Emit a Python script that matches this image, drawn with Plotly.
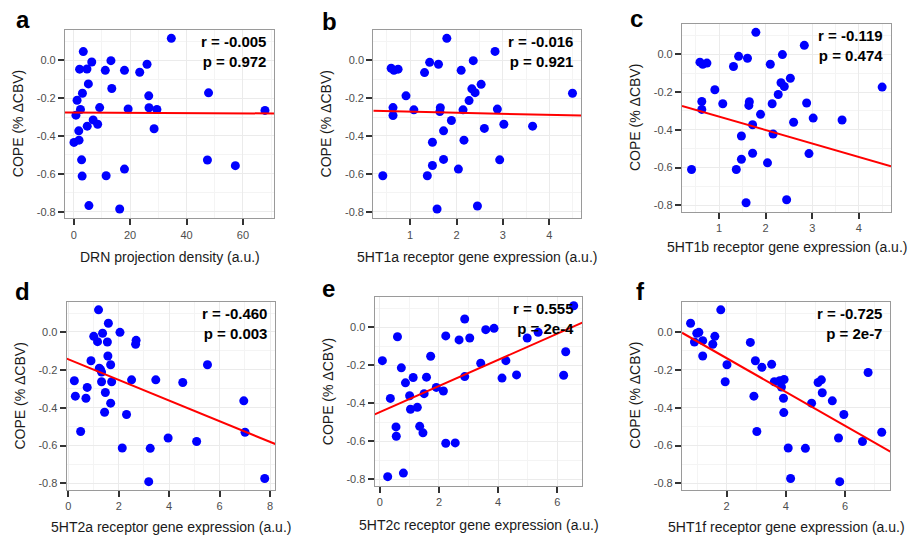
import plotly.graph_objects as go

# ---------------- data ----------------
x_drn = [34.6, 3.4, 2.1, 4.7, 6.4, 13.2, 11.2, 18.0, 23.4, 26.0, 5.2, 13.5, 3.1, 47.8, 26.6,
         1.2, 2.4, 9.2, 19.3, 26.7, 29.5, 67.8, 0.8, 6.9, 8.5, 4.8, 28.5, 1.8, 0.1, 1.9,
         2.8, 47.4, 57.3, 18.0, 3.0, 11.5, 5.4, 16.3]
cope_a = [0.116, 0.046, -0.047, -0.046, -0.009, -0.002, -0.053, -0.053, -0.063, -0.021, -0.125,
          -0.149, -0.174, -0.172, -0.188, -0.211, -0.260, -0.250, -0.257, -0.251, -0.260, -0.265,
          -0.290, -0.315, -0.338, -0.348, -0.362, -0.373, -0.434, -0.422, -0.526, -0.527, -0.557,
          -0.575, -0.612, -0.610, -0.768, -0.786]

x_5ht1a = [1.79, 2.83, 0.59, 0.65, 0.74, 1.31, 1.42, 1.61, 2.10, 2.36, 2.53, 2.33, 2.40, 2.27,
           0.91, 4.50, 0.63, 1.08, 1.65, 1.64, 2.14, 2.88, 0.63, 1.89, 3.02, 2.60, 3.64, 1.72,
           1.48, 2.16, 1.72, 2.93, 1.48, 2.04, 0.41, 1.37, 2.45, 1.58]
cope_b = [0.116, 0.047, -0.042, -0.053, -0.047, -0.065, -0.011, -0.021, -0.053, -0.002, -0.127,
          -0.151, -0.171, -0.213, -0.188, -0.174, -0.250, -0.262, -0.251, -0.271, -0.262, -0.258,
          -0.292, -0.318, -0.338, -0.360, -0.348, -0.373, -0.433, -0.422, -0.524, -0.526, -0.556,
          -0.575, -0.610, -0.610, -0.770, -0.786]

x_5ht1b = [1.79, 2.83, 0.59, 0.65, 0.74, 1.31, 1.42, 1.61, 2.10, 2.36, 2.53, 2.33, 2.40, 2.27,
           0.91, 4.50, 0.63, 1.08, 1.65, 1.64, 2.14, 2.88, 0.63, 1.89, 3.02, 2.60, 3.64, 1.72,
           1.48, 2.16, 1.72, 2.93, 1.48, 2.04, 0.41, 1.37, 2.45, 1.58]
cope_c = [0.116, 0.047, -0.042, -0.053, -0.047, -0.065, -0.011, -0.021, -0.053, -0.002, -0.127,
          -0.151, -0.171, -0.213, -0.188, -0.174, -0.250, -0.262, -0.251, -0.271, -0.262, -0.258,
          -0.292, -0.318, -0.338, -0.360, -0.348, -0.373, -0.433, -0.422, -0.524, -0.526, -0.556,
          -0.575, -0.610, -0.610, -0.770, -0.786]

x_5ht2a = [1.20, 1.59, 1.01, 1.36, 2.05, 2.69, 2.67, 1.16, 1.55, 1.57, 0.90, 1.68, 5.52, 1.23,
           1.28, 1.32, 0.24, 1.32, 1.72, 2.51, 3.47, 4.54, 0.75, 0.28, 0.70, 1.47, 6.96, 1.68,
           1.44, 2.31, 0.49, 7.01, 3.96, 5.09, 2.14, 3.25, 3.19, 7.79]
cope_d = [0.117, 0.046, -0.023, -0.007, -0.002, -0.044, -0.065, -0.051, -0.053, -0.127, -0.152,
          -0.173, -0.173, -0.191, -0.199, -0.212, -0.258, -0.263, -0.263, -0.253, -0.253, -0.267,
          -0.293, -0.339, -0.350, -0.320, -0.364, -0.376, -0.424, -0.436, -0.526, -0.530, -0.560,
          -0.579, -0.613, -0.615, -0.791, -0.774]

x_5ht2c = [6.55, 2.87, 0.60, 2.23, 2.68, 3.04, 3.58, 3.86, 4.98, 5.35, 6.28, 0.09, 1.72, 3.41,
           4.26, 0.73, 1.13, 1.58, 2.87, 4.13, 4.62, 6.21, 0.87, 1.91, 2.15, 1.50, 1.01, 0.36,
           1.04, 1.27, 0.55, 1.35, 0.56, 1.46, 2.23, 2.55, 0.27, 0.80]
cope_e = [0.114, 0.044, -0.049, -0.045, -0.066, -0.056, -0.012, -0.005, -0.056, -0.026, -0.128,
          -0.175, -0.152, -0.189, -0.175, -0.213, -0.264, -0.262, -0.259, -0.267, -0.250, -0.252,
          -0.292, -0.316, -0.335, -0.349, -0.360, -0.374, -0.431, -0.421, -0.524, -0.521, -0.573,
          -0.555, -0.610, -0.608, -0.786, -0.767]

x_5ht1f = [1.80, 0.78, 0.99, 1.06, 0.91, 1.19, 1.53, 1.60, 1.19, 2.80, 2.97, 3.19, 3.52, 2.01,
           1.95, 3.61, 3.79, 3.94, 5.09, 5.20, 6.78, 3.85, 5.23, 5.57, 2.92, 3.92, 4.87, 5.96,
           3.93, 3.02, 7.24, 5.78, 6.59, 4.08, 4.66, 4.16, 5.82]
cope_f = [0.117, 0.046, -0.007, -0.002, -0.053, -0.046, -0.065, -0.023, -0.127, -0.055, -0.152,
          -0.187, -0.171, -0.173, -0.263, -0.263, -0.258, -0.251, -0.267, -0.253, -0.214, -0.291,
          -0.321, -0.364, -0.339, -0.350, -0.376, -0.436, -0.426, -0.526, -0.530, -0.560, -0.579,
          -0.613, -0.615, -0.774, -0.791]

panel_letters = ["a", "b", "c", "d", "e", "f"]
x_titles = ["DRN projection density (a.u.)",
            "5HT1a receptor gene expression (a.u.)",
            "5HT1b receptor gene expression (a.u.)",
            "5HT2a receptor gene expression (a.u.)",
            "5HT2c receptor gene expression (a.u.)",
            "5HT1f receptor gene expression (a.u.)"]
r_values = ["-0.005", "-0.016", "-0.119", "-0.460", "0.555", "-0.725"]
p_values = ["0.972", "0.921", "0.474", "0.003", "2e-4", "2e-7"]
# regression lines: intercept and slope
fit_intercept = [-0.2762, -0.2659, -0.259, -0.1446, -0.4463, 0.0397]
fit_slope = [-0.0000675, -0.0056, -0.0711, -0.0545, 0.0689, -0.0892]
x_tickvals = [[0, 20, 40, 60], [1, 2, 3, 4], [1, 2, 3, 4], [0, 2, 4, 6, 8], [0, 2, 4, 6], [2, 4, 6]]
y_tickvals = [-0.8, -0.6, -0.4, -0.2, 0.0]
y_ticktext = ["-0.8", "-0.6", "-0.4", "-0.2", "0.0"]

xs_data = [x_drn, x_5ht1a, x_5ht1b, x_5ht2a, x_5ht2c, x_5ht1f]
ys_data = [cope_a, cope_b, cope_c, cope_d, cope_e, cope_f]

# ---------------- layout geometry (pixels) ----------------
W, H = 909, 539
boxes = [  # left, right, top, bottom
    (65, 274, 30, 218.3),
    (373.3, 581.3, 30, 218.3),
    (682, 891, 24, 212),
    (66.7, 275.3, 301.7, 490),
    (374.7, 582.3, 297, 486),
    (682, 890.3, 301.7, 490),
]
x_ranges = [[-3.08, 71.0], [0.205, 4.69], [0.205, 4.69], [-0.063, 8.21], [-0.169, 6.84], [0.49, 7.53]]
y_range = [-0.835, 0.16]
x_minor = [10, 0.5, 0.5, 1, 1, 1]
letter_pos = [(14, 20), (319.5, 21), (628, 19), (12.5, 291.5), (319.5, 288), (634, 291)]
xtitle_y = [257, 257, 247.5, 526.5, 525, 527]

FONT = "Liberation Sans, Arial, Helvetica, sans-serif"

fig = go.Figure()
annotations = []

for i in range(6):
    l, r, t, b = boxes[i]
    ax = "" if i == 0 else str(i + 1)
    xa, ya = "x" + ax, "y" + ax

    fig.add_trace(go.Scatter(
        x=xs_data[i], y=ys_data[i], mode="markers",
        marker=dict(color="#0000FF", size=9, line=dict(width=0)),
        xaxis=xa, yaxis=ya, showlegend=False, hoverinfo="x+y"))

    lx = x_ranges[i]
    ly = [fit_intercept[i] + fit_slope[i] * v for v in lx]
    fig.add_trace(go.Scatter(
        x=lx, y=ly, mode="lines", line=dict(color="#FF0000", width=2),
        xaxis=xa, yaxis=ya, showlegend=False, hoverinfo="skip"))

    common = dict(
        showline=True, linecolor="#9a9a9a", linewidth=1.2, mirror=True,
        ticks="outside", ticklen=6, tickwidth=2, tickcolor="#333333",
        showgrid=True, gridcolor="#ebebeb", gridwidth=1, zeroline=False,
        automargin=False,
        tickfont=dict(family=FONT, size=11, color="#4d4d4d"),
    )
    fig.update_layout(**{
        ("xaxis" + ax): dict(
            domain=[l / W, r / W], anchor=ya, range=x_ranges[i],
            tickvals=x_tickvals[i],
            minor=dict(dtick=x_minor[i], showgrid=True, gridcolor="#f4f4f4", gridwidth=0.8, ticks=""),
            **common),
        ("yaxis" + ax): dict(
            domain=[1 - b / H, 1 - t / H], anchor=xa, range=y_range,
            tickvals=y_tickvals, ticktext=y_ticktext,
            minor=dict(dtick=0.1, showgrid=True, gridcolor="#f4f4f4", gridwidth=0.8, ticks=""),
            **common),
    })

    # r / p text
    annotations.append(dict(
        xref=xa + " domain", yref=ya + " domain", x=1, y=1, xanchor="right", yanchor="top",
        xshift=-6, yshift=-1, align="right", showarrow=False,
        text="<b>r = %s</b><br><b>p = %s</b>" % (r_values[i], p_values[i]),
        font=dict(family=FONT, size=15, color="#000000")))

    # panel letter
    lxp, lyp = letter_pos[i]
    annotations.append(dict(
        xref="paper", yref="paper", x=lxp / W, y=1 - lyp / H, xanchor="left", yanchor="middle",
        showarrow=False, text="<b>%s</b>" % panel_letters[i],
        font=dict(family=FONT, size=24, color="#000000")))

    # x title
    annotations.append(dict(
        xref="paper", yref="paper", x=(l + r) / 2 / W, y=1 - xtitle_y[i] / H,
        xanchor="center", yanchor="middle", showarrow=False, text=x_titles[i],
        font=dict(family=FONT, size=14, color="#1a1a1a")))

    # y title
    annotations.append(dict(
        xref="paper", yref="paper", x=(l - 47) / W, y=1 - (t + b) / 2 / H,
        xanchor="center", yanchor="middle", showarrow=False, textangle=-90,
        text="COPE (% ΔCBV)",
        font=dict(family=FONT, size=14, color="#1a1a1a")))

fig.update_layout(
    width=W, height=H, margin=dict(l=0, r=0, t=0, b=0, autoexpand=False),
    paper_bgcolor="white", plot_bgcolor="white",
    annotations=annotations, showlegend=False,
)

fig.write_html(
    "out.html",
    config={"displayModeBar": False},
    post_script="document.body.style.margin='0';document.body.style.padding='0';",
)
